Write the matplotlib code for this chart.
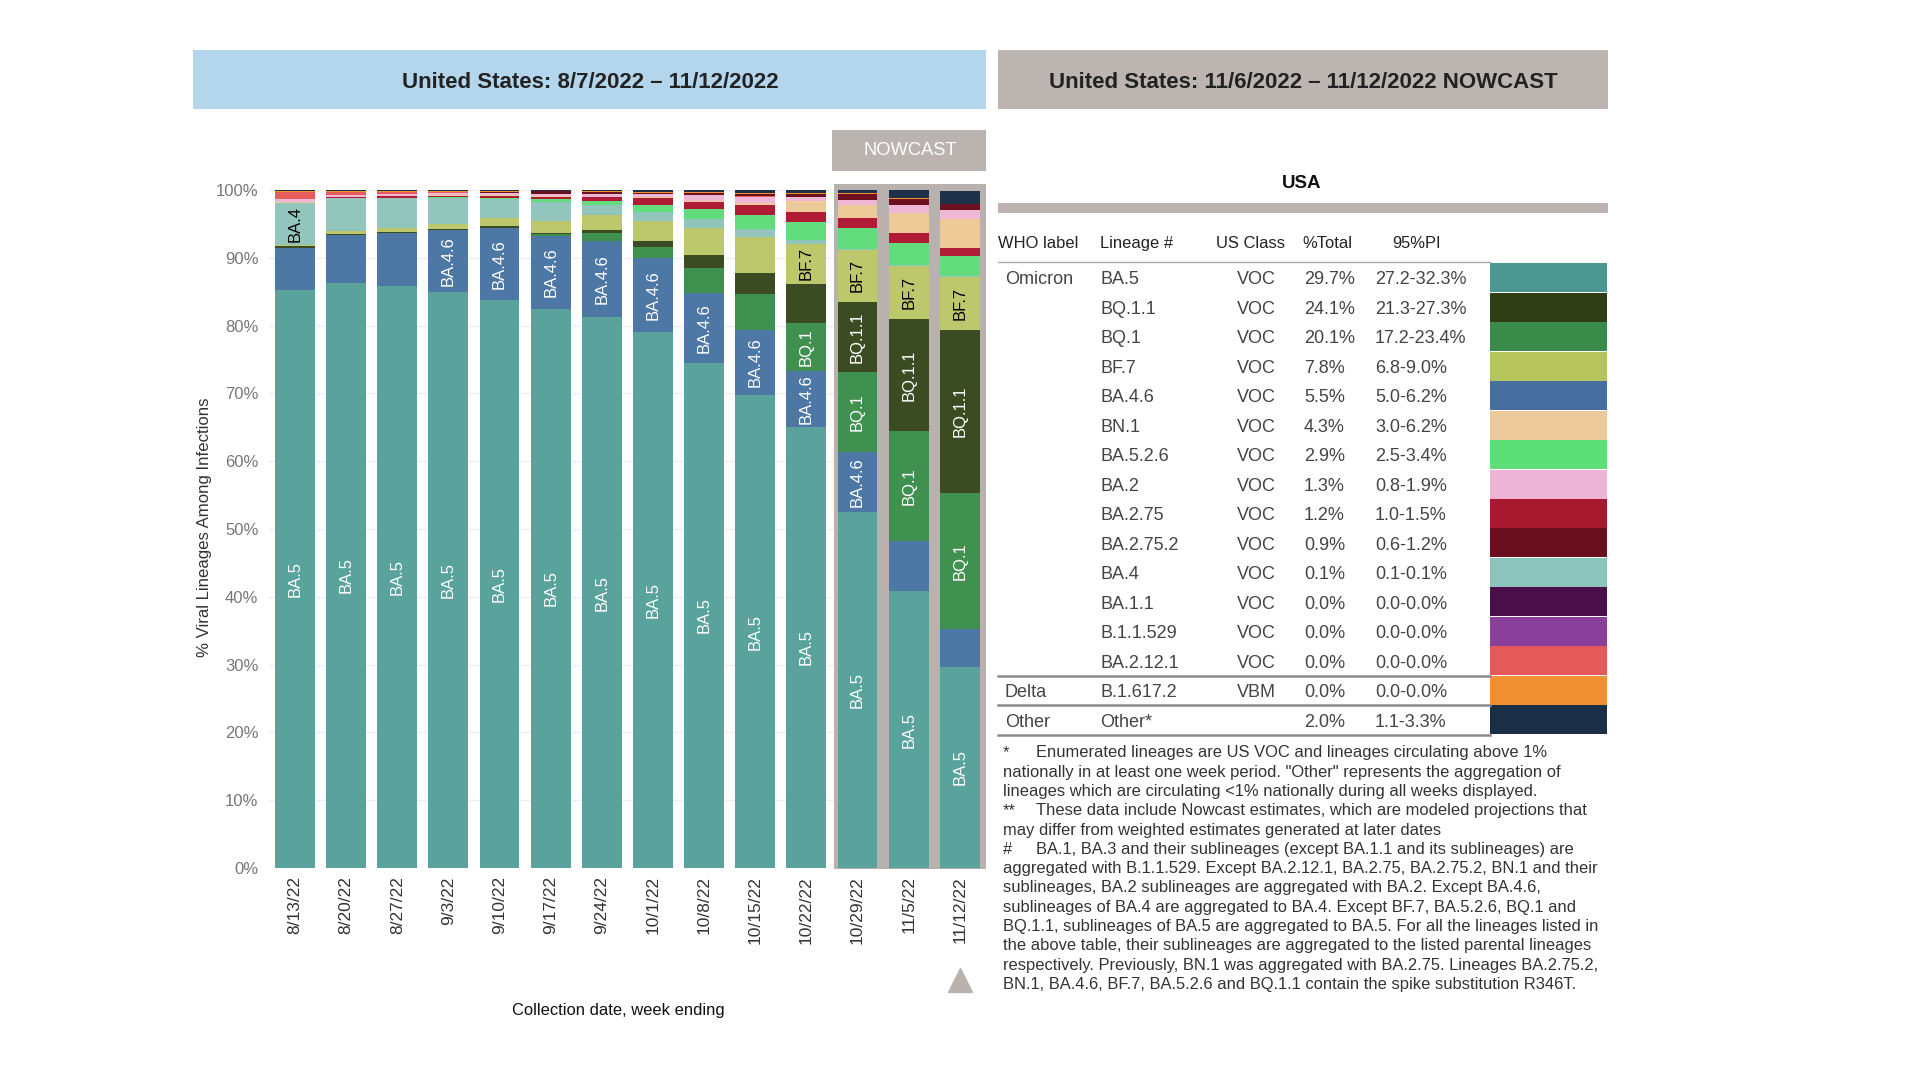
# SARS-CoV-2 variant proportions, US, weekly + nowcast table

import matplotlib
matplotlib.use('Agg')
import matplotlib.pyplot as plt
from matplotlib.patches import Rectangle

plt.rcParams['font.family'] = ['Liberation Sans', 'DejaVu Sans']

weeks = ['8/13/22', '8/20/22', '8/27/22', '9/3/22', '9/10/22', '9/17/22', '9/24/22',
         '10/1/22', '10/8/22', '10/15/22', '10/22/22', '10/29/22', '11/5/22', '11/12/22']

# weekly shares (%), bottom of stack first
ba5      = [85.3, 86.3, 85.8, 85.0, 83.8, 82.5, 81.2, 79.1, 74.5, 69.7, 65.1, 52.45, 40.8, 29.7]
ba46     = [6.15, 7.0, 7.8, 9.05, 10.55, 10.7, 11.3, 10.8, 10.25, 9.7, 8.2, 8.9, 7.4, 5.5]
bq1      = [0.05, 0.0, 0.05, 0.05, 0.1, 0.25, 1.2, 1.7, 3.8, 5.2, 7.1, 11.8, 16.2, 20.1]
bq11     = [0.2, 0.2, 0.2, 0.2, 0.25, 0.25, 0.4, 0.9, 1.8, 3.2, 5.8, 10.4, 16.5, 24.1]
bf7      = [0.25, 0.4, 0.6, 0.75, 1.2, 1.8, 2.2, 3.0, 4.1, 5.3, 5.9, 7.6, 7.9, 7.8]
ba4      = [6.1, 4.9, 4.3, 3.8, 2.8, 2.7, 1.5, 1.2, 1.2, 1.2, 0.5, 0.2, 0.1, 0.1]
ba526    = [0.0, 0.0, 0.05, 0.05, 0.1, 0.4, 0.6, 1.1, 1.5, 2.0, 2.7, 3.0, 3.3, 2.9]
ba275    = [0.1, 0.15, 0.25, 0.25, 0.35, 0.4, 0.55, 1.0, 1.1, 1.5, 1.5, 1.5, 1.5, 1.2]
bn1      = [0.05, 0.0, 0.05, 0.05, 0.05, 0.05, 0.05, 0.1, 0.2, 0.3, 1.6, 2.0, 2.9, 4.3]
ba2      = [0.5, 0.3, 0.25, 0.3, 0.3, 0.35, 0.4, 0.45, 0.8, 0.9, 0.6, 0.7, 1.2, 1.3]
ba2121   = [1.0, 0.4, 0.3, 0.15, 0.1, 0.05, 0.05, 0.05, 0.05, 0.05, 0.0, 0.0, 0.0, 0.0]
ba2752   = [0.05, 0.05, 0.1, 0.1, 0.15, 0.4, 0.3, 0.2, 0.3, 0.4, 0.35, 0.8, 0.9, 0.9]
delta    = [0.05, 0.15, 0.1, 0.1, 0.1, 0.05, 0.1, 0.15, 0.15, 0.15, 0.15, 0.15, 0.1, 0.0]
other    = [0.2, 0.15, 0.15, 0.15, 0.15, 0.1, 0.15, 0.25, 0.25, 0.4, 0.5, 0.5, 1.2, 2.0]

stack = [('BA.5', ba5, '#5aa39d', 'white'),
         ('BA.4.6', ba46, '#4d77a5', 'white'),
         ('BQ.1', bq1, '#40904f', 'white'),
         ('BQ.1.1', bq11, '#3b4b22', 'white'),
         ('BF.7', bf7, '#bdc76b', 'black'),
         ('BA.4', ba4, '#92c5bc', 'black'),
         ('BA.5.2.6', ba526, '#62dc7c', None),
         ('BA.2.75', ba275, '#b01c36', None),
         ('BN.1', bn1, '#edcb99', None),
         ('BA.2', ba2, '#efb6d6', None),
         ('BA.2.12.1', ba2121, '#e45c5c', None),
         ('BA.2.75.2', ba2752, '#6c1020', None),
         ('B.1.617.2', delta, '#f0922f', None),
         ('Other', other, '#1c3047', None)]

# nowcast table (week ending 11/12/2022)
who_label = ['Omicron'] + [''] * 13 + ['Delta', 'Other']
lineage = ['BA.5', 'BQ.1.1', 'BQ.1', 'BF.7', 'BA.4.6', 'BN.1', 'BA.5.2.6', 'BA.2', 'BA.2.75',
           'BA.2.75.2', 'BA.4', 'BA.1.1', 'B.1.1.529', 'BA.2.12.1', 'B.1.617.2', 'Other*']
us_class = ['VOC'] * 14 + ['VBM', '']
pct_total = ['29.7%', '24.1%', '20.1%', '7.8%', '5.5%', '4.3%', '2.9%', '1.3%', '1.2%', '0.9%',
             '0.1%', '0.0%', '0.0%', '0.0%', '0.0%', '2.0%']
pi95 = ['27.2-32.3%', '21.3-27.3%', '17.2-23.4%', '6.8-9.0%', '5.0-6.2%', '3.0-6.2%', '2.5-3.4%',
        '0.8-1.9%', '1.0-1.5%', '0.6-1.2%', '0.1-0.1%', '0.0-0.0%', '0.0-0.0%', '0.0-0.0%',
        '0.0-0.0%', '1.1-3.3%']
swatch = ['#4b9791', '#2f3e14', '#3a8a4a', '#b5c45c', '#466fa0', '#ecc99a', '#5ddf78', '#eeb4d6',
          '#a8182f', '#6a0f1e', '#8cc3bb', '#4a0f4a', '#8a3f9a', '#e45a5a', '#f09030', '#1a2e45']

footnotes = [
    ('*', 'Enumerated lineages are US VOC and lineages circulating above 1%'),
    ('', 'nationally in at least one week period. "Other" represents the aggregation of'),
    ('', 'lineages which are circulating <1% nationally during all weeks displayed.'),
    ('**', 'These data include Nowcast estimates, which are modeled projections that'),
    ('', 'may differ from weighted estimates generated at later dates'),
    ('#', 'BA.1, BA.3 and their sublineages (except BA.1.1 and its sublineages) are'),
    ('', 'aggregated with B.1.1.529. Except BA.2.12.1, BA.2.75, BA.2.75.2, BN.1 and their'),
    ('', 'sublineages, BA.2 sublineages are aggregated with BA.2. Except BA.4.6,'),
    ('', 'sublineages of BA.4 are aggregated to BA.4. Except BF.7, BA.5.2.6, BQ.1 and'),
    ('', 'BQ.1.1, sublineages of BA.5 are aggregated to BA.5. For all the lineages listed in'),
    ('', 'the above table, their sublineages are aggregated to the listed parental lineages'),
    ('', 'respectively. Previously, BN.1 was aggregated with BA.2.75. Lineages BA.2.75.2,'),
    ('', 'BN.1, BA.4.6, BF.7, BA.5.2.6 and BQ.1.1 contain the spike substitution R346T.'),
]

W, H = 1920, 1080
fig = plt.figure(figsize=(19.2, 10.8), dpi=100)


def fx(x):
    return x / W


def fy(y):
    return 1 - y / H


def box(x0, y0, x1, y1, color):
    fig.add_artist(Rectangle((fx(x0), fy(y1)), fx(x1) - fx(x0), fy(y0) - fy(y1),
                             transform=fig.transFigure, color=color, lw=0))


# headers
box(193, 50, 986, 109, '#b3d6ed')
fig.text(fx(590), fy(82.5), 'United States: 8/7/2022 \u2013 11/12/2022', ha='center', va='center',
         fontsize=16, fontweight='bold', color='#222222')
box(998, 50, 1608, 109, '#bdb5b1')
fig.text(fx(1303), fy(82.5), 'United States: 11/6/2022 \u2013 11/12/2022 NOWCAST', ha='center',
         va='center', fontsize=16, fontweight='bold', color='#222222')
box(832, 130, 986, 171, '#bab3af')
fig.text(fx(910), fy(150.5), 'NOWCAST', ha='center', va='center', fontsize=13.2, color='white')

# stacked bars
ax = fig.add_axes([269.4 / W, (H - 868) / H, 716 / W, 678 / H])
ax.add_patch(Rectangle((10.54, -0.2), 2.97, 101.1, color='#b9b1ad', lw=0, zorder=1, clip_on=False))
x = list(range(len(weeks)))
bottom = [0.0] * len(weeks)
for name, vals, col, txtcol in stack:
    ax.bar(x, vals, width=0.78, bottom=bottom, color=col, lw=0, zorder=2)
    if txtcol:
        for i, v in enumerate(vals):
            if v >= 1.35 * len(name):
                ax.text(i, bottom[i] + v / 2, name, rotation=90, ha='center', va='center',
                        color=txtcol, fontsize=12, zorder=3)
    bottom = [b + v for b, v in zip(bottom, vals)]

ax.set_xlim(-0.5, 13.5)
ax.set_ylim(0, 100)
ax.set_yticks(range(0, 101, 10))
ax.set_yticklabels([f'{v}%' for v in range(0, 101, 10)], fontsize=12, color='#777777')
ax.set_xticks(x)
ax.set_xticklabels(weeks, rotation=90, fontsize=12.5, color='#333333')
ax.tick_params(length=0)
ax.tick_params(axis='y', pad=8)
ax.tick_params(axis='x', pad=6)
ax.grid(axis='y', color='#efefef', lw=1)
ax.set_axisbelow(True)
for s in ax.spines.values():
    s.set_visible(False)
ax.plot([13], [-16.5], marker='^', ms=17, color='#b9b1ad', clip_on=False, lw=0)

fig.text(fx(204), fy(527), '% Viral Lineages Among Infections', rotation=90, ha='center',
         va='center', fontsize=12.1, color='#333333')
fig.text(fx(618), fy(1011), 'Collection date, week ending', ha='center', va='center',
         fontsize=11.9, color='#111111')

# nowcast table
fig.text(fx(1302), fy(183.5), 'USA', ha='center', va='center', fontsize=13.5, fontweight='bold',
         color='#111111')
box(998, 203, 1608, 213, '#bdb5b1')
for label, xp in [('WHO label', 998), ('Lineage #', 1100), ('US Class', 1216), ('%Total', 1302),
                  ('95%PI', 1392)]:
    fig.text(fx(xp), fy(244), label, ha='left', va='center', fontsize=11.9, color='#222222')
fig.add_artist(plt.Line2D([fx(998), fx(1490)], [fy(262), fy(262)], transform=fig.transFigure,
                          color='#aaaaaa', lw=1))

row0, dy = 278, 29.47
for i in range(len(lineage)):
    yc = row0 + i * dy
    yt = yc + 2
    tc = '#444444'
    fig.text(fx(1005), fy(yt), who_label[i], ha='left', va='center', fontsize=13, color=tc)
    fig.text(fx(1100), fy(yt), lineage[i], ha='left', va='center', fontsize=13, color=tc)
    fig.text(fx(1237), fy(yt), us_class[i], ha='left', va='center', fontsize=13, color=tc)
    fig.text(fx(1304), fy(yt), pct_total[i], ha='left', va='center', fontsize=13, color=tc)
    fig.text(fx(1375), fy(yt), pi95[i], ha='left', va='center', fontsize=13, color=tc)
    box(1490, yc - dy / 2, 1607, yc + dy / 2 - 0.5, swatch[i])

for k in [13, 14, 15]:
    yl = row0 + (k + 0.5) * dy
    fig.add_artist(plt.Line2D([fx(998), fx(1490)], [fy(yl), fy(yl)], transform=fig.transFigure,
                              color='#8a8a8a', lw=1.8))

# footnotes
fs = 11.9
for j, (mark, line) in enumerate(footnotes):
    yl = 752.8 + j * 19.3
    if mark:
        fig.text(fx(1003), fy(yl), mark, ha='left', va='center', fontsize=fs, color='#333333')
        fig.text(fx(1036), fy(yl), line, ha='left', va='center', fontsize=fs, color='#333333')
    else:
        fig.text(fx(1003), fy(yl), line, ha='left', va='center', fontsize=fs, color='#333333')

fig.savefig('out.png', dpi=100)
